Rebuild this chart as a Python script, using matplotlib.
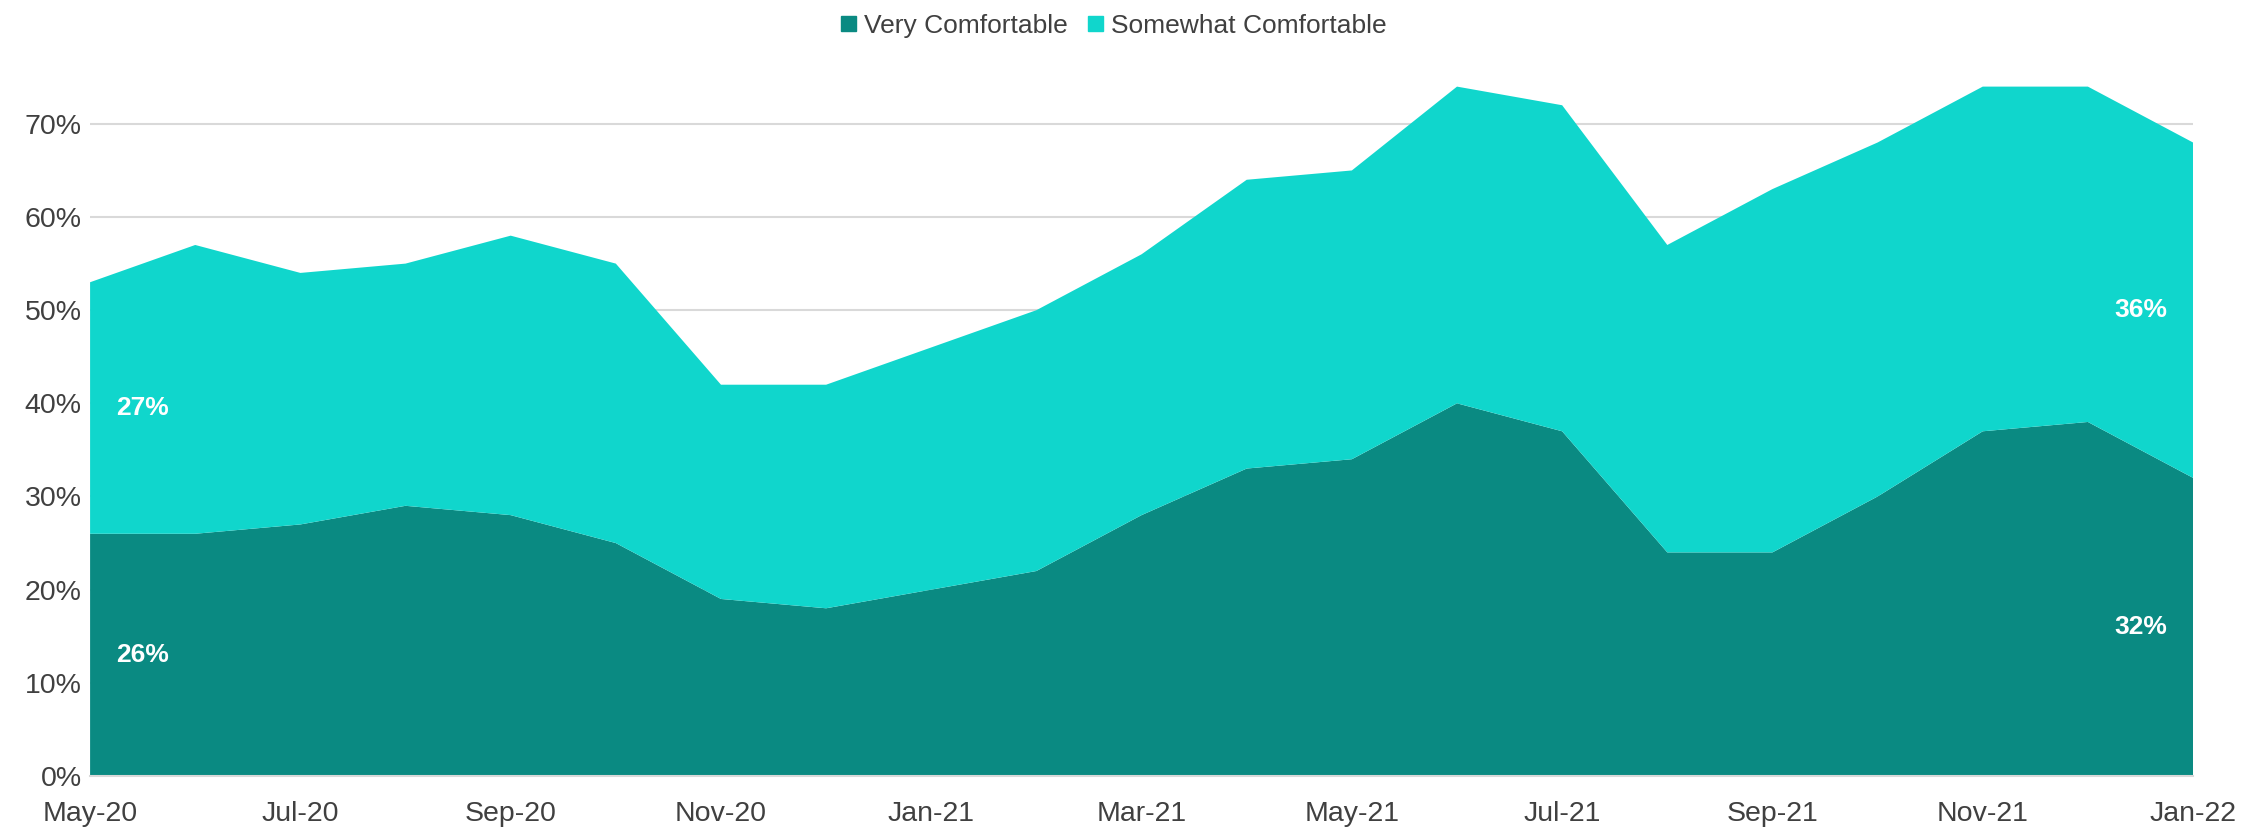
import numpy as np
import matplotlib
matplotlib.use("Agg")
import matplotlib.pyplot as plt
from matplotlib.patches import Patch

months = ["May-20", "Jun-20", "Jul-20", "Aug-20", "Sep-20", "Oct-20", "Nov-20",
          "Dec-20", "Jan-21", "Feb-21", "Mar-21", "Apr-21", "May-21", "Jun-21",
          "Jul-21", "Aug-21", "Sep-21", "Oct-21", "Nov-21", "Dec-21", "Jan-22"]
very = [26, 26, 27, 29, 28, 25, 19, 18, 20, 22, 28, 33, 34, 40, 37, 24, 24, 30, 37, 38, 32]
total = [53, 57, 54, 55, 58, 55, 42, 42, 46, 50, 56, 64, 65, 74, 72, 57, 63, 68, 74, 74, 68]
somewhat = [t - v for t, v in zip(total, very)]

dark = "#0A8A82"
light = "#10D6CC"

plt.rcParams['font.family'] = ['Liberation Sans', 'DejaVu Sans']

fig = plt.figure(figsize=(22.41, 8.30), dpi=100)
ax = fig.add_axes([0.0402, 0.0651, 0.9384, 0.853])

x = np.arange(len(months))
v = np.array(very) / 100
s = np.array(somewhat) / 100
ax.stackplot(x, v, s, colors=[dark, light], linewidth=0)

ax.set_xlim(0, len(months) - 1)
ax.set_ylim(0, 0.76)
ax.set_yticks(np.arange(0, 0.71, 0.1))
ax.set_yticklabels(["{:.0f}%".format(t * 100) for t in np.arange(0, 0.71, 0.1)])
ax.set_xticks(x[::2])
ax.set_xticklabels(months[::2])
ax.tick_params(length=0, labelsize=20.5, colors="#404040", pad=18)
ax.tick_params(axis="y", pad=6)
ax.grid(axis="y", color="#D9D9D9", linewidth=1.5)
ax.set_axisbelow(True)
for sp in ["top", "right", "left"]:
    ax.spines[sp].set_visible(False)
ax.spines["bottom"].set_color("#D9D9D9")
ax.spines["bottom"].set_linewidth(1.5)

# end-point labels, centred in each band
for i, xi in [(0, 0.5), (len(months) - 1, len(months) - 1.5)]:
    ax.text(xi, v[i] / 2, "{}%".format(very[i]), color="white", fontsize=19,
            fontweight="bold", ha="center", va="center")
    ax.text(xi, v[i] + s[i] / 2, "{}%".format(somewhat[i]), color="white", fontsize=19,
            fontweight="bold", ha="center", va="center")

handles = [Patch(color=dark, label="Very Comfortable"),
           Patch(color=light, label="Somewhat Comfortable")]
fig.legend(handles=handles, loc="upper center", bbox_to_anchor=(0.497, 1.012), ncol=2,
           frameon=False, fontsize=19, handlelength=0.55, handleheight=0.55,
           handletextpad=0.3, columnspacing=0.8, labelcolor="#404040")

fig.savefig("out.png", dpi=100)
